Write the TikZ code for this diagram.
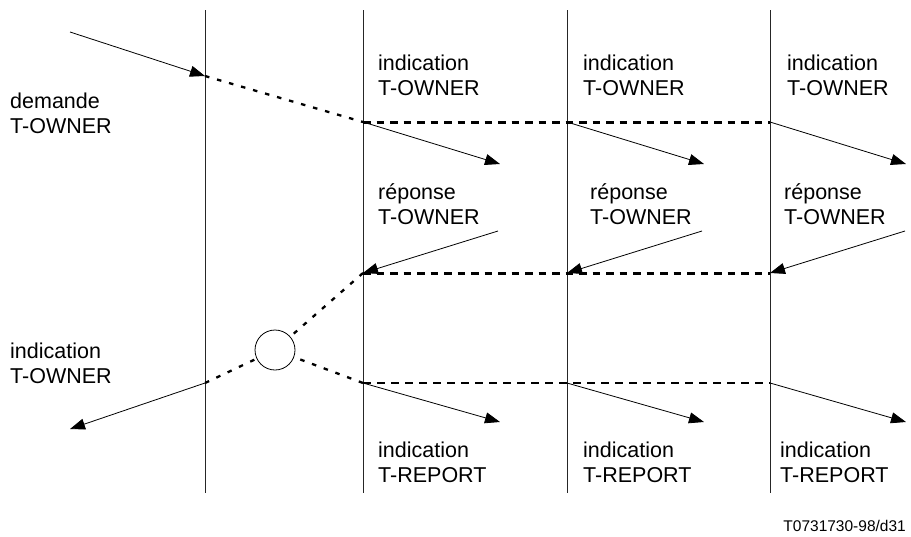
\documentclass[tikz,border=0pt]{standalone}
\usepackage{fontspec}
\setmainfont{Liberation Sans}
\usetikzlibrary{arrows.meta}

\begin{document}
\begin{tikzpicture}[x=1pt,y=-1pt,
  lifeline/.style={line width=0.8pt, draw=black!85},
  msg/.style={line width=0.8pt, -{Triangle[length=15pt,width=11pt]}},
  thickdash/.style={line width=3pt, dash pattern=on 7.5pt off 6pt},
  thindash/.style={line width=1.9pt, dash pattern=on 7.5pt off 6.5pt},
  dotline/.style={line width=2.3pt, dash pattern=on 4.5pt off 8pt},
  lbl/.style={font=\fontsize{21.5}{24.5}\selectfont, align=left, inner sep=0pt, anchor=base west},
  ref/.style={font=\fontsize{15.5}{18}\selectfont, inner sep=0pt, anchor=base east},
  junction/.style={circle, draw, line width=0.8pt, minimum size=40pt, inner sep=0pt}]
\useasboundingbox (0,0) rectangle (911,536);

% lifelines
\foreach \n/\x in {a/205,b/363,c/567,d/770}{
  \coordinate (\n top) at (\x,10);
  \coordinate (\n bot) at (\x,493);
  \draw[lifeline] (\n top) -- (\n bot);
}

% event points on the lifelines
\coordinate (src)  at (70,32);
\coordinate (req)  at (205,76);
\coordinate (ind1) at (363,122);
\coordinate (ind2) at (567,122);
\coordinate (ind3) at (770,122);
\coordinate (rsp1) at (363,273);
\coordinate (rsp2) at (567,273);
\coordinate (rsp3) at (770,273);
\coordinate (own)  at (205,383);
\coordinate (rep1) at (363,383);
\coordinate (rep2) at (567,383);
\coordinate (rep3) at (770,383);

% free ends of the messages
\coordinate (ind1e) at (500,164);
\coordinate (ind2e) at (704,164);
\coordinate (ind3e) at (906,164);
\coordinate (rsp1s) at (498,231);
\coordinate (rsp2s) at (702,231);
\coordinate (rsp3s) at (905,231);
\coordinate (owne)  at (70,429);
\coordinate (rep1e) at (500,422);
\coordinate (rep2e) at (704,422);
\coordinate (rep3e) at (906,422);

\node[junction] (j) at (275,350) {};

% request and its propagation
\draw[msg] (src) -- (req);
\draw[dotline] (req) -- (ind1);
\draw[thickdash] (ind1) -- (ind3);
\draw[msg] (ind1) -- (ind1e);
\draw[msg] (ind2) -- (ind2e);
\draw[msg] (ind3) -- (ind3e);

% responses
\draw[msg] (rsp1s) -- (rsp1);
\draw[msg] (rsp2s) -- (rsp2);
\draw[msg] (rsp3s) -- (rsp3);
\draw[thickdash] (rsp1) -- (rsp3);
\draw[dotline, shorten >=3pt] (rsp1) -- (j);

% outcome
\draw[dotline, shorten >=2pt] (own) -- (j);
\draw[dotline, shorten >=2pt] (rep1) -- (j);
\draw[thindash] (rep1) -- (rep3);
\draw[msg] (own) -- (owne);
\draw[msg] (rep1) -- (rep1e);
\draw[msg] (rep2) -- (rep2e);
\draw[msg] (rep3) -- (rep3e);

% labels (anchored on the baseline of their last line)
\node[lbl] (l0) at (10,133) {demande\\T-OWNER};
\node[lbl] (l1) at (378,95) {indication\\T-OWNER};
\node[lbl] (l2) at (583,95) {indication\\T-OWNER};
\node[lbl] (l3) at (787,95) {indication\\T-OWNER};
\node[lbl] (r1) at (378,224) {réponse\\T-OWNER};
\node[lbl] (r2) at (590,224) {réponse\\T-OWNER};
\node[lbl] (r3) at (784,224) {réponse\\T-OWNER};
\node[lbl] (l4) at (10,383) {indication\\T-OWNER};
\node[lbl] (p1) at (378,482) {indication\\T-REPORT};
\node[lbl] (p2) at (583,482) {indication\\T-REPORT};
\node[lbl] (p3) at (780,482) {indication\\T-REPORT};
\node[ref] (fig) at (906,531) {T0731730-98/d31};
\end{tikzpicture}
\end{document}
